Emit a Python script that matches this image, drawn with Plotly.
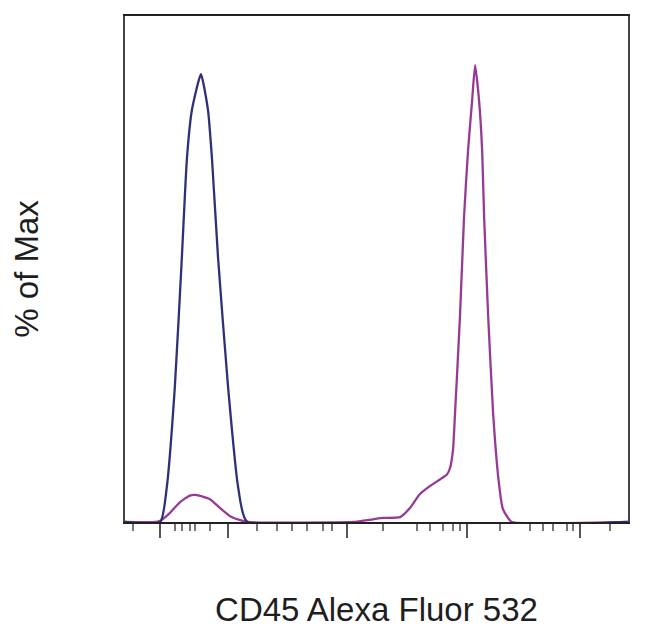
import plotly.graph_objects as go

# display scale 0-1000 (biexponential channel), y = % of Max
unstained_x = [0, 70, 83, 99, 113, 123, 133, 151, 165, 173, 185, 205, 225, 243, 1000]
unstained_y = [0, 0, 7.7, 30, 59, 81, 92, 100, 92, 81, 59, 30, 7.7, 0, 0]

cd45_x = [0, 60, 70, 89, 109, 129, 143, 169, 189, 209, 229, 245, 453, 493, 513, 547,
          567, 586, 606, 626, 640, 646, 652, 656, 666, 674, 682, 690, 696, 704, 710,
          714, 722, 732, 743, 751, 761, 769, 1000]
cd45_y = [0, 0, 0.3, 2.0, 4.4, 5.9, 6.0, 5.1, 3.1, 1.3, 0.4, 0, 0, 0.6, 0.9, 1.1,
          3.2, 6.2, 8.0, 9.5, 10.6, 12, 16, 24, 46, 68, 83, 94, 102, 94, 83,
          68, 46, 24, 9, 3, 1, 0, 0]

major_ticks = [70, 205, 441, 680, 905]
minor_ticks = [16, 99, 113, 129, 139, 169, 262, 302, 332, 362, 394, 412, 513, 581,
               606, 632, 652, 666, 746, 805, 831, 851, 879, 891, 964]

fig = go.Figure()
fig.add_trace(go.Scatter(x=cd45_x, y=cd45_y, mode="lines",
                         line=dict(color="#963a96", width=2.3, shape="spline", smoothing=0.5)))
fig.add_trace(go.Scatter(x=unstained_x, y=unstained_y, mode="lines",
                         line=dict(color="#30307a", width=2.3, shape="spline", smoothing=0.5)))

# la page a une marge de 8px (body), on compense
fig.update_layout(
    width=650, height=641,
    margin=dict(l=117, r=30, t=6, b=127),
    paper_bgcolor="white", plot_bgcolor="white",
    showlegend=False,
    font=dict(family="Liberation Sans, Arial, sans-serif", color="#1e1e1e"),
)
fig.update_xaxes(
    range=[0, 1000], showgrid=False, zeroline=False,
    showline=True, mirror=True, linecolor="#222", linewidth=2,
    tickmode="array", tickvals=major_ticks, ticks="outside", ticklen=14,
    tickwidth=2, tickcolor="#555", showticklabels=False,
    minor=dict(tickvals=minor_ticks, ticks="outside", ticklen=7, tickwidth=2, tickcolor="#777"),
    title=dict(text="CD45 Alexa Fluor 532", font=dict(size=33), standoff=61),
)
fig.update_yaxes(
    range=[0, 113], showgrid=False, zeroline=False,
    showline=True, mirror=True, linecolor="#444", linewidth=2,
    ticks="", showticklabels=False,
    title=dict(text="% of Max", font=dict(size=33), standoff=78),
)

fig.write_html("out.html")
